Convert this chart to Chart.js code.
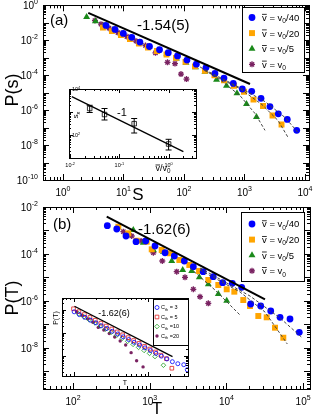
<!DOCTYPE html>
<html>
<head>
<meta charset="utf-8">
<script src="https://cdn.jsdelivr.net/npm/chart.js@4.4.1/dist/chart.umd.min.js"></script>
<style>
  html, body { margin: 0; padding: 0; background: #fff; }
  #wrap { position: relative; width: 316px; height: 417px; overflow: hidden; }
  #wrap canvas { position: absolute; left: 0; top: 0; }
</style>
</head>
<body>
<div id="wrap">
  <canvas id="mainA" width="316" height="417"></canvas>
  <canvas id="mainB" width="316" height="417"></canvas>
  <canvas id="insetA" width="316" height="417"></canvas>
  <canvas id="insetB" width="316" height="417"></canvas>
</div>
<script>
const FONT = '"Liberation Sans", Arial, Helvetica, sans-serif';

// ---- panel (a): size distribution P(s)
const sTicks = [1, 10, 100, 1000, 10000];
const psTicks = [1, 1e-2, 1e-4, 1e-6, 1e-8, 1e-10];
const velLabels = ['/40', '/20', '/5', ''];

const sBlue = [5.14, 7.24, 9.93, 13.7, 18.7, 26.9, 39.4, 55.0, 78.2, 112, 160, 231, 325, 458, 653, 920, 1315, 1875, 2636, 3622, 5093, 7295];
const pBlue = [7.03e-2, 4.16e-2, 2.47e-2, 1.46e-2, 7.9e-3, 4.39e-3, 2.85e-3, 1.95e-3, 1.26e-3, 7.31e-4, 4.28e-4, 2.74e-4, 1.25e-4, 6.84e-5, 3.37e-5, 1.62e-5, 1.19e-5, 4.74e-6, 1.60e-6, 6.17e-7, 2.92e-7, 6.93e-8];
const sOrange = [4.58, 6.45, 9.09, 12.8, 18.0, 25.4, 35.8, 51.4, 73.8, 106, 152, 222, 319, 458, 670, 981, 1409, 2023, 2904, 4092];
const pOrange = [5.27e-2, 3.33e-2, 1.97e-2, 1.17e-2, 6.49e-3, 3.85e-3, 2.43e-3, 1.54e-3, 9.75e-4, 5.77e-4, 3.20e-4, 1.78e-4, 9.86e-5, 5.13e-5, 2.50e-5, 1.14e-5, 4.0e-6, 1.71e-6, 4.93e-7, 1.52e-7];
const sGreen = [2.46, 3.45, 4.76, 6.70, 9.44, 13.3, 18.7, 26.4, 37.2, 52.4, 75.2, 108, 155, 222, 345, 504, 751, 1079, 1578];
const pGreen = [0.216, 0.123, 6.84e-2, 3.8e-2, 2.25e-2, 1.33e-2, 7.4e-3, 4.11e-3, 2.6e-3, 1.64e-3, 9.12e-4, 5.07e-4, 2.81e-4, 1.56e-4, 5.48e-5, 2.50e-5, 9.37e-6, 2.22e-6, 4.06e-7];
const sPurple = [3.38, 4.25, 5.75, 8.11, 11.4, 16.1, 23.1, 33.8, 53.4, 71.0, 89.2, 110];
const pPurple = [0.135, 8.32e-2, 4.93e-2, 2.74e-2, 1.62e-2, 9.0e-3, 5.0e-3, 1.9e-3, 5.41e-4, 4.62e-4, 1.15e-4, 6.0e-5];
const fitAS = [2.62, 1233];
const fitAP = [0.365, 3.12e-5];
const tailBlueAS = [222, 843, 2183, 4670, 7650];
const tailBlueAP = [2.03e-4, 1.92e-5, 3.08e-6, 3.8e-7, 5.34e-8];
const tailOrangeAS = [222, 843, 1946, 3581, 5236];
const tailOrangeAP = [1.78e-4, 1.69e-5, 2.08e-6, 2.56e-7, 2.77e-8];
const tailGreenAS = [184, 394, 843, 1493, 2183];
const tailGreenAP = [3.0e-4, 5.48e-5, 6.76e-6, 6.41e-7, 6.93e-8];

// ---- inset (a): cutoff s_x against mean velocity
const vTicks = [0.01, 0.1, 1];
const sxTicks = [100, 10000];
const vRatio = [0.025, 0.05, 0.2, 1];
const sx = [1419, 778, 310, 40.6];
const sxLo = [951, 449, 122, 22.3];
const sxHi = [1954, 1419, 521, 65.0];
const sxFitV = [0.01083, 1.995];
const sxFitS = [4624, 18.8];

// ---- panel (b): duration distribution P(T)
const tTicks = [100, 1000, 10000, 100000];
const ptTicks = [1e-2, 1e-4, 1e-6, 1e-8];
const tBlue = [280, 372, 491, 663, 887, 1172, 1585, 2094, 2827, 3704, 4982, 6739, 8943, 11940, 15830, 20740, 28000, 37840, 50050, 67490, 89130];
const qBlue = [1.60e-3, 1.16e-3, 5.83e-4, 3.34e-4, 3.57e-4, 2.19e-4, 1.13e-4, 8.22e-5, 5.04e-5, 2.88e-5, 1.77e-5, 1.08e-5, 6.01e-6, 5.66e-6, 3.83e-6, 7.45e-7, 6.12e-7, 3.75e-7, 2.02e-7, 1.71e-7, 4.66e-8];
const tOrange = [390, 526, 676, 914, 1062, 1432, 1839, 2432, 3285, 4396, 5808, 7839, 10090, 12680, 16600, 20300, 26060, 33500, 43020, 55210];
const qOrange = [1.45e-3, 7.60e-4, 3.68e-4, 3.34e-4, 1.58e-4, 1.48e-4, 1.07e-4, 5.56e-5, 3.41e-5, 1.89e-5, 7.83e-6, 4.80e-6, 3.15e-6, 2.49e-6, 1.10e-6, 6.12e-7, 2.30e-7, 2.02e-7, 7.31e-8, 2.74e-8];
const tGreen = [611, 826, 1115, 1504, 1936, 2692, 3528, 4436, 5808, 7839, 10090];
const qGreen = [1.05e-3, 3.03e-4, 1.48e-4, 1.25e-4, 5.04e-5, 2.08e-5, 1.89e-5, 1.02e-5, 5.14e-6, 1.99e-6, 1.03e-6];
const tPurple = [453, 582, 771, 1115, 1459, 2249, 2884, 3704, 4529, 5808];
const qPurple = [8.89e-4, 5.83e-4, 3.57e-4, 1.13e-4, 5.04e-5, 1.77e-5, 1.02e-5, 3.15e-6, 1.52e-6, 7.98e-7];
const fitBT = [275, 31840];
const fitBQ = [3.86e-3, 1.18e-6];
const tailBlueBT = [4529, 20300, 50000, 95940];
const tailBlueBQ = [2.54e-5, 1.63e-6, 1.89e-7, 2.85e-8];
const tailOrangeBT = [4529, 15030, 31840, 62230];
const tailOrangeBQ = [2.08e-5, 2.42e-6, 3.4e-7, 1.48e-8];
const tailGreenBT = [3350, 7100, 15030];
const tailGreenBQ = [2.54e-5, 2.94e-6, 2.54e-7];

// ---- inset (b): P(T) for several thresholds C_th
const thresholds = [3, 5, 10, 20];
const tC3 = [102, 120, 142, 169, 200, 236, 280, 331, 392, 464, 550, 651, 771, 912, 1080, 1279, 1514, 1791, 2123, 2512, 3020, 3365];
const qC3 = [8.02e-3, 6.06e-3, 4.63e-3, 3.49e-3, 2.67e-3, 2.01e-3, 1.54e-3, 1.16e-3, 8.87e-4, 6.70e-4, 5.12e-4, 3.86e-4, 2.95e-4, 2.23e-4, 1.70e-4, 1.29e-4, 9.80e-5, 7.41e-5, 5.65e-5, 4.62e-5, 4.19e-5, 2.54e-5];
const tC5 = [100, 118, 140, 166, 196, 233, 275, 326, 386, 457, 541, 641, 759, 898, 1064, 1259, 1490, 1766, 2089];
const qC5 = [1.084e-2, 8.11e-3, 6.12e-3, 4.58e-3, 3.46e-3, 2.59e-3, 1.94e-3, 1.45e-3, 1.09e-3, 8.18e-4, 6.18e-4, 4.62e-4, 3.49e-4, 2.61e-4, 1.98e-4, 1.48e-4, 1.08e-4, 7.64e-5, 2.95e-5];
const tC10 = [117, 138, 163, 194, 229, 271, 321, 380, 450, 533, 631, 747, 885, 1047, 1240, 1610];
const qC10 = [6.56e-3, 4.86e-3, 3.61e-3, 2.67e-3, 1.96e-3, 1.45e-3, 1.06e-3, 7.87e-4, 5.82e-4, 4.27e-4, 3.16e-4, 2.34e-4, 1.73e-4, 1.29e-4, 9.42e-5, 3.98e-5];
const tC20 = [110, 130, 154, 182, 215, 255, 302, 357, 423, 501, 593, 703, 858];
const qC20 = [8.02e-3, 5.65e-3, 3.98e-3, 2.81e-3, 1.70e-3, 1.32e-3, 9.33e-4, 6.56e-4, 4.40e-4, 2.95e-4, 1.39e-4, 6.25e-5, 3.36e-5];
const fitIT = [103, 2133];
const fitIQ = [1.39e-2, 9.33e-5];

const BLUE = '#0000ff', ORANGE = '#ffa500', GREEN = '#1a8a1a', PURPLE = '#7a2362';

const pts = (xs, ys) => xs.map((x, i) => ({ x: x, y: ys[i] }));
const exp10 = v => String(Math.round(Math.log10(v)));

function rich(ctx, parts, x, y, size, align) {
  const sm = size * 0.7;
  const ws = parts.map(p => {
    ctx.font = ((p.sub || p.sup) ? sm : size) + 'px ' + FONT;
    return ctx.measureText(p.t).width;
  });
  const w = ws.reduce((a, b) => a + b, 0);
  let cx = align === 'right' ? x - w : align === 'center' ? x - w / 2 : x;
  const base = y + size * 0.36;
  ctx.textAlign = 'left';
  ctx.textBaseline = 'alphabetic';
  parts.forEach((p, i) => {
    ctx.font = ((p.sub || p.sup) ? sm : size) + 'px ' + FONT;
    let by = base;
    if (p.sub) by += size * 0.25;
    if (p.sup) by -= size * 0.45;
    ctx.fillText(p.t, cx, by);
    if (p.over) ctx.fillRect(cx, base - size * 0.74, ws[i], Math.max(0.8, size * 0.08));
    cx += ws[i];
  });
}

function pow10(v) { return [{ t: '10' }, { t: exp10(v), sup: true }]; }

function logTicks(ctx, scale, area, horiz, maj, min) {
  const lo = Math.floor(Math.log10(scale.min)), hi = Math.ceil(Math.log10(scale.max));
  ctx.beginPath();
  for (let d = lo; d <= hi; d++) {
    for (let k = 1; k <= 9; k++) {
      const v = k * Math.pow(10, d);
      if (v < scale.min * 0.999 || v > scale.max * 1.001) continue;
      const p = Math.round(scale.getPixelForValue(v)) + 0.5;
      const len = k === 1 ? maj : min;
      if (horiz) {
        ctx.moveTo(p, area.bottom); ctx.lineTo(p, area.bottom - len);
        ctx.moveTo(p, area.top); ctx.lineTo(p, area.top + len);
      } else {
        ctx.moveTo(area.left, p); ctx.lineTo(area.left + len, p);
        ctx.moveTo(area.right, p); ctx.lineTo(area.right - len, p);
      }
    }
  }
  ctx.stroke();
}

function drawLegend(ctx, L) {
  ctx.fillStyle = '#fff';
  ctx.fillRect(L.x, L.y, L.w, L.h);
  ctx.strokeStyle = '#000';
  ctx.lineWidth = 1;
  ctx.strokeRect(L.x + 0.5, L.y + 0.5, L.w, L.h);
  L.items.forEach((it, i) => {
    const y = L.y0 + i * L.dy;
    ctx.fillStyle = it.fill;
    ctx.strokeStyle = it.stroke;
    ctx.lineWidth = it.bw || 0.01;
    Chart.helpers.drawPoint(ctx, { pointStyle: it.style, radius: it.r, borderWidth: it.bw, rotation: 0 }, L.mx, y);
    ctx.fillStyle = '#000';
    rich(ctx, it.parts, L.tx, y, L.size, 'left');
  });
}

const velParts = s => [{ t: 'v', over: true }, { t: ' = v' }, { t: '0', sub: true }, { t: s }];
const mainLegendItems = [
  { style: 'circle', r: 3.4, fill: BLUE, stroke: BLUE, bw: 0 },
  { style: 'rect', r: 4.2, fill: ORANGE, stroke: ORANGE, bw: 0 },
  { style: 'triangle', r: 4, fill: GREEN, stroke: GREEN, bw: 0 },
  { style: 'star', r: 3, fill: PURPLE, stroke: PURPLE, bw: 1.3 }
].map((it, i) => Object.assign(it, { parts: velParts(velLabels[i]) }));

const insetLegendItems = [
  { style: 'circle', r: 2, fill: 'rgba(0,0,0,0)', stroke: BLUE, bw: 0.8 },
  { style: 'rect', r: 2.6, fill: 'rgba(0,0,0,0)', stroke: '#e02020', bw: 0.8 },
  { style: 'rectRot', r: 2.3, fill: 'rgba(0,0,0,0)', stroke: '#1a9a1a', bw: 0.8 },
  { style: 'circle', r: 1.7, fill: PURPLE, stroke: PURPLE, bw: 0 }
].map((it, i) => Object.assign(it, {
  parts: [{ t: 'C' }, { t: 'th', sub: true }, { t: (thresholds[i] < 10 ? ' = ' : ' =') + thresholds[i] }]
}));

const decorCfg = {
  mainA: {
    maj: 6, min: 3, tickSize: 10, xLabY: 12, yLabX: 5,
    xLabels: sTicks, yLabels: psTicks,
    texts: [
      { parts: [{ t: '(a)' }], x: 50, y: 20, size: 15, align: 'left' },
      { parts: [{ t: '-1.54(5)' }], x: 137, y: 25, size: 15, align: 'left' },
      { parts: [{ t: 'S' }], x: 138, y: 194, size: 17, align: 'center' },
      { parts: [{ t: 'P(s)' }], x: 12, y: 90, size: 18, align: 'center', rot: true }
    ],
    legend: { x: 242, y: 7, w: 62, h: 65, y0: 17.5, dy: 15.6, mx: 252, tx: 262, size: 9.5, items: mainLegendItems }
  },
  mainB: {
    maj: 6, min: 3, tickSize: 10, xLabY: 12, yLabX: 5,
    xLabels: tTicks, yLabels: ptTicks,
    texts: [
      { parts: [{ t: '(b)' }], x: 53, y: 224, size: 15, align: 'left' },
      { parts: [{ t: '-1.62(6)' }], x: 138, y: 229, size: 15, align: 'left' },
      { parts: [{ t: 'T' }], x: 157, y: 408, size: 17, align: 'center' },
      { parts: [{ t: 'P(T)' }], x: 12, y: 298, size: 18, align: 'center', rot: true }
    ],
    legend: { x: 241, y: 212, w: 63, h: 69, y0: 224, dy: 15.6, mx: 252, tx: 262, size: 9.5, items: mainLegendItems }
  },
  insetA: {
    white: true, maj: 4, min: 2, tickSize: 5.5, xLabY: 7, yLabX: -3, yAlign: 'left',
    xLabels: vTicks, yLabels: sxTicks,
    errors: { xs: vRatio, lo: sxLo, hi: sxHi, cap: 3 },
    texts: [
      { parts: [{ t: '-1' }], x: 122, y: 112, size: 11, align: 'center' },
      { parts: [{ t: 'v', over: true }, { t: '/v' }, { t: '0', sub: true }], x: 163, y: 168, size: 9, align: 'center' },
      { parts: [{ t: 's' }, { t: 'x', sub: true }], x: 75, y: 115, size: 8, align: 'center', rot: true }
    ]
  },
  insetB: {
    white: true, maj: 4, min: 2,
    xLabels: [], yLabels: [],
    texts: [
      { parts: [{ t: '-1.62(6)' }], x: 114, y: 313, size: 9, align: 'center' },
      { parts: [{ t: 'T' }], x: 125, y: 382, size: 7, align: 'center' },
      { parts: [{ t: 'P(T)' }], x: 55, y: 318, size: 7, align: 'center', rot: true }
    ],
    legend: { x: 153, y: 299, w: 35, h: 46, y0: 307.5, dy: 9.5, mx: 157, tx: 161, size: 5.5, items: insetLegendItems }
  }
};

const decor = {
  id: 'decor',
  beforeDraw(chart) {
    const c = decorCfg[chart.canvas.id];
    if (!c || !c.white) return;
    const a = chart.chartArea, ctx = chart.ctx;
    ctx.save();
    ctx.fillStyle = '#fff';
    ctx.fillRect(a.left, a.top, a.right - a.left, a.bottom - a.top);
    ctx.restore();
  },
  afterDatasetsDraw(chart) {
    const c = decorCfg[chart.canvas.id];
    if (!c || !c.errors) return;
    const ctx = chart.ctx, xs = chart.scales.x, ys = chart.scales.y, e = c.errors;
    ctx.save();
    ctx.strokeStyle = '#000';
    ctx.lineWidth = 1;
    ctx.beginPath();
    e.xs.forEach((v, i) => {
      const px = xs.getPixelForValue(v), p1 = ys.getPixelForValue(e.lo[i]), p2 = ys.getPixelForValue(e.hi[i]);
      ctx.moveTo(px, p1); ctx.lineTo(px, p2);
      ctx.moveTo(px - e.cap, p1); ctx.lineTo(px + e.cap, p1);
      ctx.moveTo(px - e.cap, p2); ctx.lineTo(px + e.cap, p2);
    });
    ctx.stroke();
    ctx.restore();
  },
  afterDraw(chart) {
    const c = decorCfg[chart.canvas.id];
    if (!c) return;
    const ctx = chart.ctx, a = chart.chartArea, xs = chart.scales.x, ys = chart.scales.y;
    ctx.save();
    ctx.strokeStyle = '#000';
    ctx.lineWidth = 1;
    ctx.strokeRect(Math.round(a.left) + 0.5, Math.round(a.top) + 0.5, Math.round(a.right - a.left), Math.round(a.bottom - a.top));
    logTicks(ctx, xs, a, true, c.maj, c.min);
    logTicks(ctx, ys, a, false, c.maj, c.min);
    ctx.fillStyle = '#000';
    c.xLabels.forEach(v => rich(ctx, pow10(v), xs.getPixelForValue(v), a.bottom + c.xLabY, c.tickSize, 'center'));
    c.yLabels.forEach(v => rich(ctx, pow10(v), a.left - c.yLabX, ys.getPixelForValue(v), c.tickSize, c.yAlign || 'right'));
    c.texts.forEach(t => {
      if (t.rot) {
        ctx.save();
        ctx.translate(t.x, t.y);
        ctx.rotate(-Math.PI / 2);
        rich(ctx, t.parts, 0, 0, t.size, t.align);
        ctx.restore();
      } else {
        rich(ctx, t.parts, t.x, t.y, t.size, t.align);
      }
    });
    if (c.legend) drawLegend(ctx, c.legend);
    ctx.restore();
  }
};
Chart.register(decor);

function makeChart(id, datasets, xr, yr, pad) {
  return new Chart(document.getElementById(id), {
    type: 'scatter',
    data: { datasets: datasets },
    options: {
      responsive: false,
      animation: false,
      devicePixelRatio: 1,
      events: [],
      layout: { padding: pad },
      plugins: { legend: { display: false }, tooltip: { enabled: false } },
      scales: {
        x: { type: 'logarithmic', min: xr[0], max: xr[1], display: false },
        y: { type: 'logarithmic', min: yr[0], max: yr[1], display: false }
      }
    }
  });
}

const fitLine = (xs, ys) => ({ data: pts(xs, ys), showLine: true, borderColor: '#000', borderWidth: 2, pointRadius: 0 });
const tailLine = (xs, ys) => ({ data: pts(xs, ys), showLine: true, borderColor: '#444', borderWidth: 1, borderDash: [3, 2], pointRadius: 0 });
const marks = (xs, ys, style, r, color, bw) => ({
  data: pts(xs, ys), pointStyle: style, pointRadius: r, backgroundColor: color, borderColor: color, borderWidth: bw || 0
});
const openMarks = (xs, ys, style, r, color) => ({
  data: pts(xs, ys), pointStyle: style, pointRadius: r, backgroundColor: 'rgba(0,0,0,0)', borderColor: color, borderWidth: 0.8
});

makeChart('mainA', [
  tailLine(tailBlueAS, tailBlueAP),
  tailLine(tailOrangeAS, tailOrangeAP),
  tailLine(tailGreenAS, tailGreenAP),
  fitLine(fitAS, fitAP),
  marks(sBlue, pBlue, 'circle', 3.4, BLUE),
  marks(sOrange, pOrange, 'rect', 4.2, ORANGE),
  marks(sGreen, pGreen, 'triangle', 4, GREEN),
  marks(sPurple, pPurple, 'star', 3, PURPLE, 1.3)
], [0.468, 11640], [1e-10, 1], { left: 43, top: 4, right: 7, bottom: 237 });

makeChart('mainB', [
  tailLine(tailBlueBT, tailBlueBQ),
  tailLine(tailOrangeBT, tailOrangeBQ),
  tailLine(tailGreenBT, tailGreenBQ),
  fitLine(fitBT, fitBQ),
  marks(tBlue, qBlue, 'circle', 3.4, BLUE),
  marks(tOrange, qOrange, 'rect', 4.2, ORANGE),
  marks(tGreen, qGreen, 'triangle', 4, GREEN),
  marks(tPurple, qPurple, 'star', 3, PURPLE, 1.3)
], [40.6, 123000], [1.8e-10, 1e-2], { left: 43, top: 207, right: 6, bottom: 28 });

makeChart('insetA', [
  { data: pts(sxFitV, sxFitS), showLine: true, borderColor: '#000', borderWidth: 1.3, pointRadius: 0 },
  openMarks(vRatio, sx, 'rect', 3.2, '#000')
], [0.0095, 3.6], [10, 10000], { left: 69, top: 89, right: 120, bottom: 259 });

makeChart('insetB', [
  { data: pts(fitIT, fitIQ), showLine: true, borderColor: '#000', borderWidth: 1.3, pointRadius: 0 },
  openMarks(tC3, qC3, 'circle', 2, BLUE),
  openMarks(tC5, qC5, 'rect', 2.6, '#e02020'),
  openMarks(tC10, qC10, 'rectRot', 2.3, '#1a9a1a'),
  marks(tC20, qC20, 'circle', 1.7, PURPLE)
], [70, 3443], [1.364e-5, 0.0316], { left: 62, top: 298, right: 128, bottom: 41 });
</script>
</body>
</html>
